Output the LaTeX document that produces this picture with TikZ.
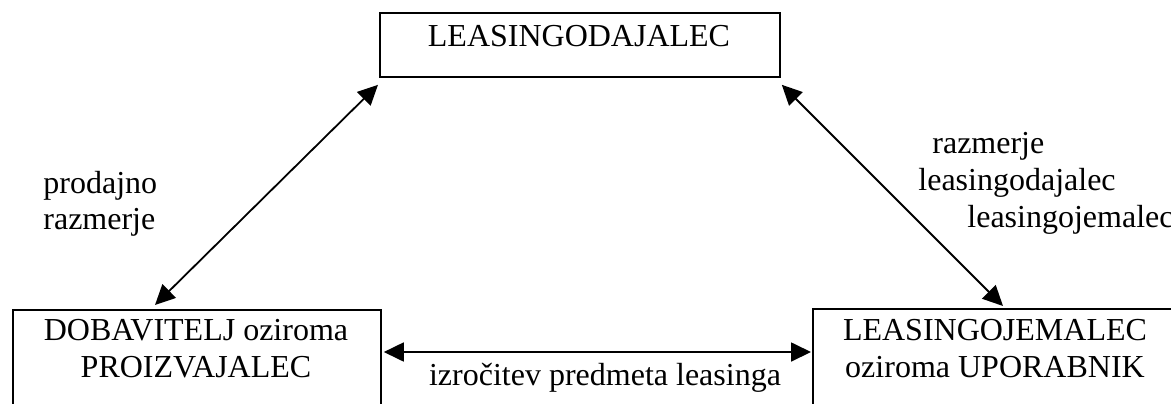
\documentclass[tikz,border=0pt]{standalone}
\usepackage{fontspec}
\setmainfont{Liberation Serif}
\usetikzlibrary{arrows.meta}
\begin{document}
\begin{tikzpicture}[x=0.5pt,y=-0.5pt,
  box/.style={draw,line width=0.9pt,rectangle,inner sep=0pt},
  txt/.style={inner sep=0pt,font=\fontsize{16}{18.5}\selectfont},
  link/.style={line width=0.9pt,{Triangle[length=10pt,width=9.5pt]}-{Triangle[length=10pt,width=9.5pt]}}]
\clip (0,0) rectangle (1171,403);
% boxes
\node[box,minimum width=200pt,minimum height=32pt,anchor=north west] (top) at (379,12) {};
\node[box,minimum width=184pt,minimum height=80pt,anchor=north west] (left) at (12,309) {};
\node[box,minimum width=184pt,minimum height=80pt,anchor=north west] (right) at (812,308) {};
% box texts
\node[txt,anchor=base] (ttop) at (579,46) {LEASINGODAJALEC};
\node[txt,anchor=base] (tl1) at (196,340) {DOBAVITELJ oziroma};
\node[txt,anchor=base] (tl2) at (196,377) {PROIZVAJALEC};
\node[txt,anchor=base] (tr1) at (995,340) {LEASINGOJEMALEC};
\node[txt,anchor=base] (tr2) at (995,377) {oziroma UPORABNIK};
% connectors
\draw[link] ([shift={(143,-4)}]left.north west) -- ([shift={(-1,7)}]top.south west);
\draw[link] ([shift={(1,7)}]top.south east) -- ([shift={(191,-2)}]right.north west);
\draw[link] ([shift={(2,43)}]left.north east) -- ([shift={(-1,44)}]right.north west);
% labels
\node[txt,anchor=base] (lbot) at (605,385) {izročitev predmeta leasinga};
\node[txt,anchor=base west] (ll1) at (43,193) {prodajno};
\node[txt,anchor=base west] (ll2) at (43,229) {razmerje};
\node[txt,anchor=base west] (lr1) at (932,153) {razmerje};
\node[txt,anchor=base west] (lr2) at (918,190) {leasingodajalec};
\node[txt,anchor=base west] (lr3) at (967,227) {leasingojemalec};
\end{tikzpicture}
\end{document}
